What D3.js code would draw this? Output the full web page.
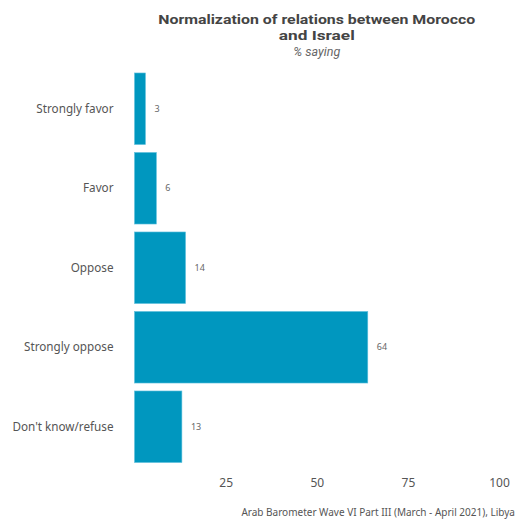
<!DOCTYPE html>
<html><head><meta charset="utf-8">
<script src="https://cdn.jsdelivr.net/npm/d3@7"></script>
<style>body{margin:0;background:#fff}svg{display:block}text{font-family:"Noto Sans",sans-serif}</style>
</head><body><div id="chart"></div>
<script>
const categories = ["Strongly favor","Favor","Oppose","Strongly oppose","Don't know/refuse"];
const values = [3,6,14,64,13];
const tickValues = [25,50,75,100];
const title = ["Normalization of relations between Morocco","and Israel"];
const subtitle = "% saying";
const caption = "Arab Barometer Wave VI Part III (March - April 2021), Libya";

const W=521,H=521;
const svg=d3.select("#chart").append("svg").attr("width",W).attr("height",H);
const x=d3.scaleLinear().domain([0,100]).range([134.5,499]);
const y=d3.scaleBand().domain(categories).range([69,466.5]).paddingInner(0.1).paddingOuter(0.05);

svg.append("g").selectAll("rect").data(values).join("rect")
  .attr("x",x(0)).attr("y",(d,i)=>y(categories[i]))
  .attr("width",d=>x(d)-x(0)).attr("height",y.bandwidth())
  .attr("fill","#0097bf").attr("stroke","#5fc0dc").attr("stroke-width",0.6);

svg.append("g").selectAll("text").data(values).join("text")
  .attr("x",d=>x(d)+9).attr("y",(d,i)=>y(categories[i])+y.bandwidth()/2)
  .attr("dy","0.35em").attr("font-size",9).attr("fill","#666").text(d=>d);

const ay=d3.axisLeft(y).tickSize(0).tickPadding(21);
const gy=svg.append("g").attr("transform",`translate(${x(0)},0)`).call(ay);
gy.select(".domain").remove();
gy.selectAll("text").attr("font-size",11.7).attr("fill","#555").style("font-family","'Noto Sans',sans-serif");

const ax=d3.axisBottom(x).tickValues(tickValues).tickSize(0).tickPadding(0);
const gx=svg.append("g").attr("transform",`translate(0,478)`).call(ax);
gx.select(".domain").remove();
gx.selectAll("text").attr("font-size",12).attr("fill","#555").style("font-family","'Noto Sans',sans-serif");

const cx=(x(0)+x(100))/2;
svg.append("text").attr("x",cx).attr("y",24).attr("text-anchor","middle")
  .style("font-family","Roboto,sans-serif").attr("textLength",317).attr("lengthAdjust","spacingAndGlyphs")
  .attr("font-size",13.6).attr("font-weight","bold").attr("fill","#444").text(title[0]);
svg.append("text").attr("x",cx).attr("y",40).attr("text-anchor","middle")
  .style("font-family","Roboto,sans-serif").attr("textLength",76).attr("lengthAdjust","spacingAndGlyphs")
  .attr("font-size",13.6).attr("font-weight","bold").attr("fill","#444").text(title[1]);
svg.append("text").attr("x",cx).attr("y",56).attr("text-anchor","middle")
  .style("font-family","Roboto,sans-serif")
  .attr("font-size",12.5).attr("font-style","italic").attr("fill","#666").text(subtitle);
svg.append("text").attr("x",515).attr("y",516).attr("text-anchor","end")
  .attr("font-size",10).attr("fill","#555").text(caption);
</script></body></html>
